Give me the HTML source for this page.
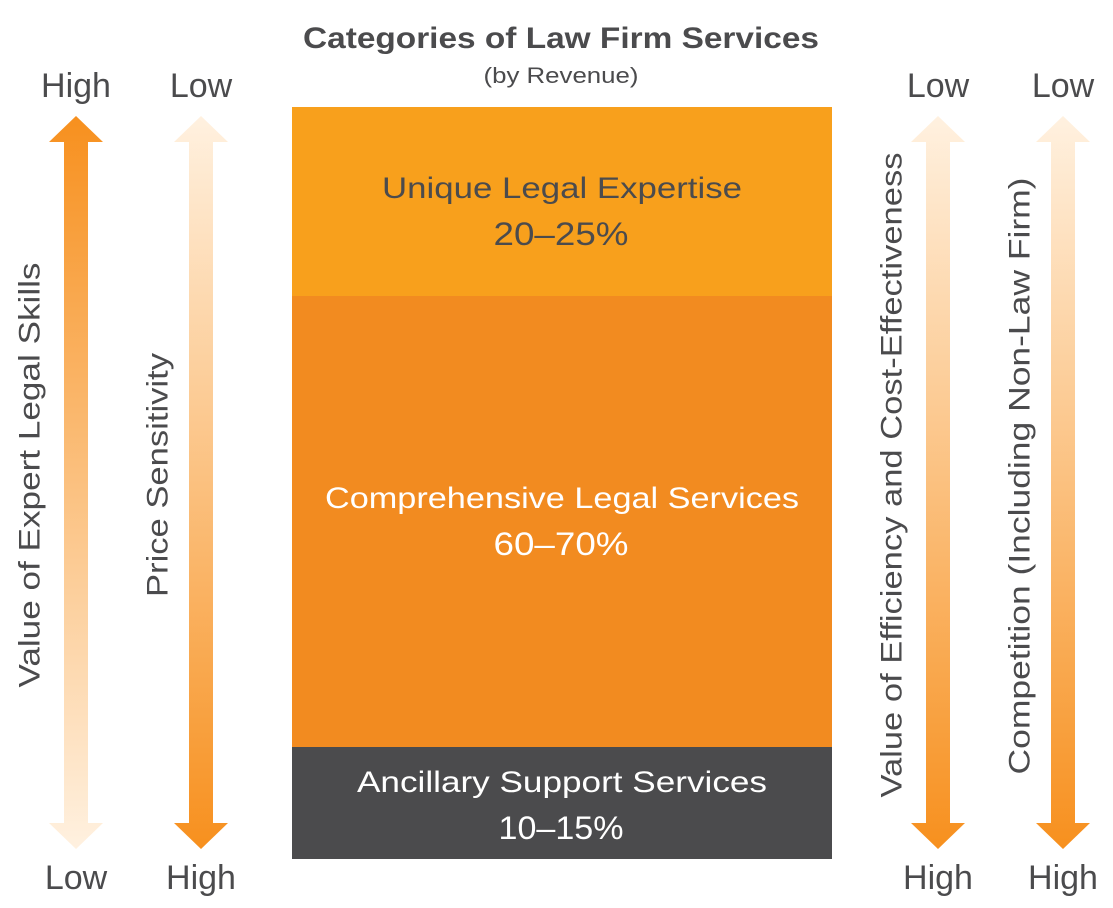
<!DOCTYPE html>
<html><head><meta charset="utf-8"><style>html,body{margin:0;padding:0;background:#fff}svg{display:block}text{font-family:"Liberation Sans",sans-serif;fill:#4b4b4d}</style></head><body>
<svg width="1113" height="908" viewBox="0 0 1113 908" xmlns="http://www.w3.org/2000/svg">
<defs>
<linearGradient id="up" x1="0" y1="116" x2="0" y2="849" gradientUnits="userSpaceOnUse"><stop offset="0" stop-color="#F7901E"/><stop offset="1" stop-color="#FFF1E0"/></linearGradient>
<linearGradient id="dn" x1="0" y1="116" x2="0" y2="849" gradientUnits="userSpaceOnUse"><stop offset="0" stop-color="#FFF1E0"/><stop offset="1" stop-color="#F7901E"/></linearGradient>
</defs>
<text x="561" y="48" text-anchor="middle" font-size="30" font-weight="bold" textLength="516" lengthAdjust="spacingAndGlyphs">Categories of Law Firm Services</text>
<text x="561" y="83" text-anchor="middle" font-size="22" textLength="155" lengthAdjust="spacingAndGlyphs">(by Revenue)</text>
<g font-size="34" text-anchor="middle">
<text x="76" y="97">High</text><text x="201" y="97">Low</text><text x="938" y="97">Low</text><text x="1063" y="97">Low</text>
<text x="76" y="889">Low</text><text x="201" y="889">High</text><text x="938" y="889">High</text><text x="1063" y="889">High</text>
</g>
<path fill="url(#up)" d="M76 116 L103 142 L88 142 L88 823 L103 823 L76 849 L49 823 L64 823 L64 142 L49 142 Z"/>
<path fill="url(#dn)" d="M201 116 L228 142 L213 142 L213 823 L228 823 L201 849 L174 823 L189 823 L189 142 L174 142 Z"/>
<path fill="url(#dn)" d="M938 116 L965 142 L950 142 L950 823 L965 823 L938 849 L911 823 L926 823 L926 142 L911 142 Z"/>
<path fill="url(#dn)" d="M1063 116 L1090 142 L1075 142 L1075 823 L1090 823 L1063 849 L1036 823 L1051 823 L1051 142 L1036 142 Z"/>
<g font-size="30" text-anchor="middle" dominant-baseline="central">
<text transform="translate(30 475) rotate(-90)" textLength="425" lengthAdjust="spacingAndGlyphs">Value of Expert Legal Skills</text>
<text transform="translate(158 475) rotate(-90)" textLength="244" lengthAdjust="spacingAndGlyphs">Price Sensitivity</text>
<text transform="translate(892 475) rotate(-90)" textLength="645" lengthAdjust="spacingAndGlyphs">Value of Efficiency and Cost-Effectiveness</text>
<text transform="translate(1020 476) rotate(-90)" textLength="597" lengthAdjust="spacingAndGlyphs">Competition (Including Non-Law Firm)</text>
</g>
<rect x="292" y="107" width="540" height="189" fill="#F8A01C"/>
<rect x="292" y="296" width="540" height="451" fill="#F28B20"/>
<rect x="292" y="747" width="540" height="112" fill="#4B4B4D"/>
<g font-size="30" text-anchor="middle">
<text x="562" y="198" textLength="360" lengthAdjust="spacingAndGlyphs">Unique Legal Expertise</text>
<text x="561" y="245" font-size="32" textLength="135" lengthAdjust="spacingAndGlyphs">20–25%</text>
<text x="562" y="508" style="fill:#fff" textLength="474" lengthAdjust="spacingAndGlyphs">Comprehensive Legal Services</text>
<text x="561" y="555" font-size="32" style="fill:#fff" textLength="135" lengthAdjust="spacingAndGlyphs">60–70%</text>
<text x="562" y="792" style="fill:#fff" textLength="410" lengthAdjust="spacingAndGlyphs">Ancillary Support Services</text>
<text x="561" y="839" font-size="32" style="fill:#fff" textLength="125" lengthAdjust="spacingAndGlyphs">10–15%</text>
</g>
</svg>
</body></html>
